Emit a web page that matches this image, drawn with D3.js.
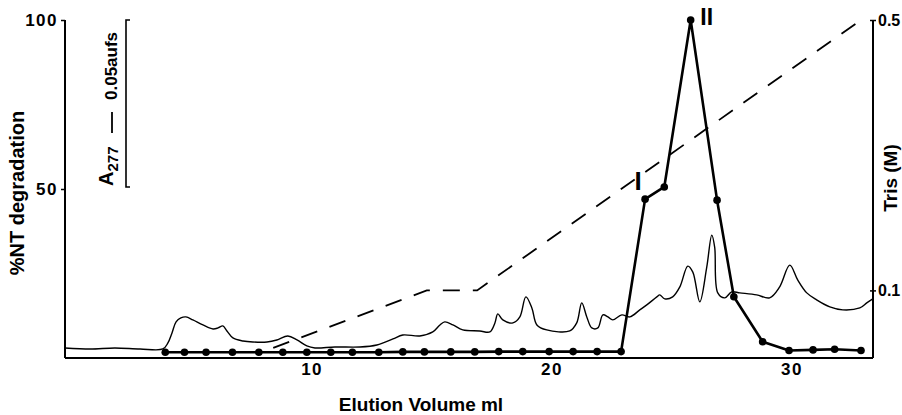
<!DOCTYPE html>
<html>
<head>
<meta charset="utf-8">
<script src="https://cdn.jsdelivr.net/npm/d3@7"></script>
<style>
  html, body { margin: 0; padding: 0; background: #fff; }
  svg { display: block; }
  text { font-family: "Liberation Sans", Arial, sans-serif; font-weight: bold; fill: #000; }
</style>
</head>
<body>
<svg id="chart" width="902" height="415"></svg>
<script>
// A277 absorbance trace: elution volume (ml) and absorbance (AU)
const traceMl = [-0.28, 0.77, 1.80, 2.85, 3.80, 4.01, 4.18, 4.35, 4.55, 4.76, 5.05, 5.47, 5.89, 6.10, 6.30, 6.47, 6.72, 7.14, 7.55, 8.14,
  8.55, 9.01, 9.39, 9.80, 10.14, 10.97, 12.01, 12.72, 13.39, 13.80, 14.51, 15.05, 15.35, 15.55, 15.89, 16.30, 17.01, 17.43, 17.64, 17.76,
  17.97, 18.39, 18.68, 18.93, 19.18, 19.39, 19.80, 20.76, 21.05, 21.26, 21.47, 21.68, 21.93, 22.14, 22.35, 22.55, 22.93, 23.26, 23.68, 23.97,
  24.39, 24.51, 24.72, 25.05, 25.35, 25.68, 25.89, 26.18, 26.47, 26.68, 26.80, 26.93, 27.22, 27.51, 27.85, 28.55, 29.09, 29.51, 29.93, 30.26,
  30.64, 31.05, 31.60, 32.14, 32.85, 33.14, 33.39];
const traceA277 = [0.0030, 0.0027, 0.0030, 0.0027, 0.0027, 0.0045, 0.0075, 0.0108, 0.0120, 0.0123, 0.0114, 0.0099, 0.0087, 0.0090, 0.0096, 0.0081, 0.0060, 0.0051, 0.0048, 0.0048,
  0.0054, 0.0066, 0.0054, 0.0036, 0.0030, 0.0033, 0.0033, 0.0039, 0.0057, 0.0069, 0.0066, 0.0078, 0.0099, 0.0108, 0.0099, 0.0084, 0.0081, 0.0078, 0.0105, 0.0132,
  0.0114, 0.0105, 0.0123, 0.0183, 0.0150, 0.0099, 0.0084, 0.0081, 0.0105, 0.0165, 0.0123, 0.0090, 0.0090, 0.0129, 0.0123, 0.0114, 0.0129, 0.0123, 0.0144, 0.0159,
  0.0183, 0.0189, 0.0177, 0.0183, 0.0213, 0.0275, 0.0257, 0.0168, 0.0272, 0.0368, 0.0332, 0.0195, 0.0180, 0.0198, 0.0195, 0.0189, 0.0180, 0.0213, 0.0278, 0.0234,
  0.0195, 0.0174, 0.0153, 0.0144, 0.0150, 0.0165, 0.0177];

// Neurotensin-degrading activity per fraction
const fractionMl = [3.9, 4.7, 5.6, 6.7, 7.8, 8.8, 9.8, 10.8, 11.7, 12.8, 13.8, 14.7, 15.8, 16.8, 17.8, 18.8, 19.9, 20.9, 21.9, 22.9,
  23.9, 24.7, 25.8, 26.9, 27.6, 28.8, 29.9, 30.9, 31.8, 32.9];
const ntDegradation = [1.7, 1.7, 1.7, 1.7, 1.7, 1.7, 1.7, 1.7, 1.7, 1.7, 1.8, 1.8, 1.8, 1.8, 1.9, 1.9, 1.9, 1.9, 1.9, 1.9,
  47.0, 50.6, 100, 46.7, 18.1, 4.8, 2.2, 2.4, 2.6, 2.2];

// Tris gradient (M)
const trisMl = [8.4, 14.8, 16.9, 32.9];
const trisM = [0.015, 0.1, 0.1, 0.5];

// Axis ticks and labels
const xTicks = [10, 20, 30];
const leftTicks = [50, 100];
const rightTicks = [0.1, 0.5];
const peakLabels = [{ text: "I", ml: 23.9, pct: 47.0 }, { text: "II", ml: 25.8, pct: 100 }];
const scaleBarAU = 0.05;

const svg = d3.select("#chart");

const x = d3.scaleLinear().domain([-0.28, 33.4]).range([65, 873]);
const yPct = d3.scaleLinear().domain([0, 100]).range([358, 20]);
const yTris = d3.scaleLinear().domain([0, 0.5]).range([358, 20]);
const yAbs = d3.scaleLinear().domain([0, 0.05]).range([358, 191]);

// Axes
const gx = svg.append("g").attr("transform", "translate(0,358)")
  .call(d3.axisBottom(x).tickValues(xTicks).tickSize(0).tickPadding(5).tickFormat(d3.format("d")));
gx.select(".domain").attr("stroke", "#000").attr("stroke-width", 2).attr("d", "M65,0H873");
gx.selectAll("text").style("font-size", "17px").style("letter-spacing", "1.5px").style("font-family", "Liberation Sans, Arial, sans-serif");

const gl = svg.append("g").attr("transform", "translate(65,0)")
  .call(d3.axisLeft(yPct).tickValues(leftTicks).tickSize(4).tickPadding(3).tickFormat(d3.format("d")));
gl.select(".domain").attr("stroke", "#000").attr("stroke-width", 2).attr("d", "M0,20V358");
gl.selectAll(".tick line").attr("stroke-width", 1.5);
gl.selectAll("text").style("font-size", "17px").style("letter-spacing", "1.5px").style("font-family", "Liberation Sans, Arial, sans-serif");

const gr = svg.append("g").attr("transform", "translate(873,0)")
  .call(d3.axisRight(yTris).tickValues(rightTicks).tickSize(3).tickPadding(2).tickFormat(d3.format(".1f")));
gr.select(".domain").attr("stroke", "#000").attr("stroke-width", 2).attr("d", "M0,20V358");
gr.selectAll(".tick line").attr("x1", -3).attr("stroke-width", 1.5);
gr.selectAll("text").style("font-size", "16px").style("font-family", "Liberation Sans, Arial, sans-serif");

// Axis titles
svg.append("text").attr("x", 421).attr("y", 411).attr("text-anchor", "middle")
  .style("font-size", "19px").text("Elution Volume ml");
svg.append("text").attr("transform", "translate(24,193) rotate(-90)").attr("text-anchor", "middle")
  .style("font-size", "20px").text("%NT degradation");
svg.append("text").attr("transform", "translate(897,178) rotate(-90)").attr("text-anchor", "middle")
  .style("font-size", "19px").text("Tris (M)");

// A277 scale bar
const barLen = yAbs(0) - yAbs(scaleBarAU);
const barTop = 20;
svg.append("path")
  .attr("d", `M130,${barTop}H126V${barTop + barLen}H130`)
  .attr("fill", "none").attr("stroke", "#000").attr("stroke-width", 1.6);
const sb = svg.append("text").attr("transform", "translate(113,186) rotate(-90)").attr("text-anchor", "start");
sb.append("tspan").style("font-size", "20px").text("A");
sb.append("tspan").attr("dy", 5).style("font-size", "15px").text("277");
svg.append("line").attr("x1", 112).attr("x2", 112).attr("y1", 133).attr("y2", 112)
  .attr("stroke", "#000").attr("stroke-width", 1.8);
svg.append("text").attr("transform", "translate(117,100) rotate(-90)").attr("text-anchor", "start")
  .style("font-size", "17px").text("0.05aufs");

// Tris gradient (dashed)
svg.append("path")
  .datum(trisMl.map((m, i) => [m, trisM[i]]))
  .attr("d", d3.line().x(d => x(d[0])).y(d => yTris(d[1])))
  .attr("fill", "none").attr("stroke", "#000").attr("stroke-width", 1.8)
  .attr("stroke-dasharray", "17,13");

// A277 trace
svg.append("path")
  .datum(traceMl.map((m, i) => [m, traceA277[i]]))
  .attr("d", d3.line().x(d => x(d[0])).y(d => yAbs(d[1])).curve(d3.curveCatmullRom.alpha(0.5)))
  .attr("fill", "none").attr("stroke", "#000").attr("stroke-width", 1.4).attr("stroke-linejoin", "round");

// %NT degradation line and points
const nt = fractionMl.map((m, i) => [m, ntDegradation[i]]);
svg.append("path")
  .datum(nt)
  .attr("d", d3.line().x(d => x(d[0])).y(d => yPct(d[1])))
  .attr("fill", "none").attr("stroke", "#000").attr("stroke-width", 2.6).attr("stroke-linejoin", "round");
svg.selectAll("circle.pt").data(nt).enter().append("circle")
  .attr("class", "pt")
  .attr("cx", d => x(d[0])).attr("cy", d => yPct(d[1])).attr("r", 3.8).attr("fill", "#000");

// Peak labels
svg.append("text").attr("x", x(peakLabels[0].ml) - 7).attr("y", yPct(peakLabels[0].pct) - 9)
  .attr("text-anchor", "middle").style("font-size", "26px").text(peakLabels[0].text);
svg.append("text").attr("x", x(peakLabels[1].ml) + 16).attr("y", yPct(peakLabels[1].pct) + 5)
  .attr("text-anchor", "middle").style("font-size", "23px").text(peakLabels[1].text);
</script>
</body>
</html>
